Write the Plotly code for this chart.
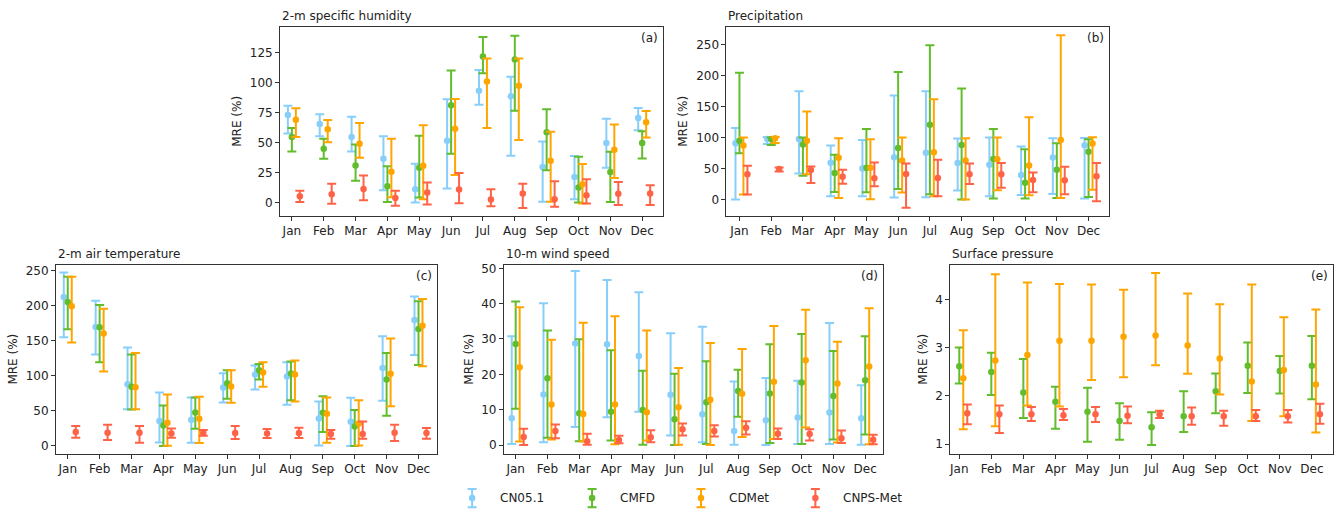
import plotly.graph_objects as go

months = ["Jan", "Feb", "Mar", "Apr", "May", "Jun", "Jul", "Aug", "Sep", "Oct", "Nov", "Dec"]
series_names = ["CN05.1", "CMFD", "CDMet", "CNPS-Met"]

# ---------- (a) 2-m specific humidity ----------
q_cn05_mid = [73.3, 65.8, 55.0, 36.8, 11.3, 51.7, 93.5, 88.8, 29.9, 21.6, 50.0, 70.8]
q_cn05_lo = [57.8, 55.6, 42.9, 10.5, 0.3, 11.9, 81.9, 39.3, 0.8, 3.0, 29.3, 60.6]
q_cn05_hi = [81.0, 73.8, 71.9, 55.6, 32.6, 86.3, 110.9, 105.1, 51.2, 39.0, 70.2, 79.1]
q_cmfd_mid = [54.8, 45.0, 31.2, 13.8, 29.3, 81.3, 122.0, 119.5, 58.9, 12.7, 25.7, 50.0]
q_cmfd_lo = [42.9, 36.8, 18.5, 0.6, 4.4, 40.9, 108.1, 76.9, 27.1, 0.3, 0.6, 37.0]
q_cmfd_hi = [62.5, 53.4, 48.7, 30.4, 55.9, 110.3, 138.3, 139.4, 78.0, 38.4, 42.6, 59.7]
q_cdmet_mid = [69.4, 61.4, 49.2, 26.0, 31.0, 61.7, 101.2, 97.6, 35.1, 15.5, 44.2, 67.2]
q_cdmet_lo = [54.8, 50.6, 37.6, 4.7, 3.0, 23.2, 62.5, 52.3, 0.8, -0.6, 20.7, 54.5]
q_cdmet_hi = [78.8, 69.1, 66.6, 53.4, 64.7, 86.6, 120.3, 120.3, 59.2, 32.4, 65.3, 76.6]
q_cnps_mid = [5.5, 7.2, 11.6, 4.1, 8.6, 11.0, 2.8, 7.7, 3.0, 6.4, 7.5, 7.7]
q_cnps_lo = [0.6, -0.8, 2.2, -2.5, -1.4, -0.3, -2.8, -4.4, -3.3, -0.6, -1.9, -1.9]
q_cnps_hi = [10.0, 15.8, 22.7, 10.0, 16.9, 24.9, 11.3, 16.0, 18.0, 19.6, 17.4, 14.7]

# ---------- (b) Precipitation ----------
p_cn05_mid = [90.8, 97.8, 97.8, 59.3, 50.2, 68.4, 75.3, 58.8, 56.0, 39.5, 67.8, 87.6]
p_cn05_lo = [0.0, 89.7, 42.2, 5.3, 5.3, 3.2, 3.7, 14.4, 5.3, 7.5, 9.1, 1.6]
p_cn05_hi = [115.4, 101.0, 174.7, 87.1, 96.2, 167.7, 174.7, 98.3, 99.9, 85.5, 98.8, 99.4]
p_cmfd_mid = [95.0, 97.8, 88.7, 42.7, 51.3, 83.3, 120.7, 88.1, 65.5, 27.2, 48.1, 76.9]
p_cmfd_lo = [74.8, 88.1, 38.5, 12.3, 11.8, 17.1, 8.5, 0.0, 1.6, 1.6, 2.7, 4.3]
p_cmfd_hi = [204.6, 99.9, 99.9, 72.1, 113.8, 205.7, 248.9, 179.0, 113.8, 81.2, 90.8, 97.2]
p_cdmet_mid = [87.0, 98.8, 94.6, 67.3, 51.3, 63.0, 76.4, 63.0, 65.0, 55.0, 96.2, 90.3]
p_cdmet_lo = [8.0, 91.3, 40.6, 2.7, 0.5, 11.2, 5.3, 0.0, 15.0, 6.9, 2.7, 16.0]
p_cdmet_hi = [99.9, 101.0, 142.1, 98.8, 97.2, 99.9, 161.9, 98.8, 99.9, 132.5, 265.0, 100.4]
p_cnps_mid = [40.6, 49.1, 47.5, 36.9, 34.2, 41.1, 34.7, 40.6, 40.6, 31.5, 31.0, 37.4]
p_cnps_lo = [8.0, 45.4, 26.7, 25.6, 21.4, -13.4, 5.3, 25.1, 19.2, 11.8, 8.5, -2.7]
p_cnps_hi = [54.5, 51.8, 53.4, 48.1, 59.8, 58.2, 64.1, 58.2, 58.8, 43.8, 52.9, 58.8]

# ---------- (c) 2-m air temperature ----------
t_cn05_mid = [212.0, 169.0, 87.5, 34.7, 36.6, 82.7, 101.2, 98.4, 38.5, 33.7, 110.7, 179.2]
t_cn05_lo = [154.5, 129.8, 51.8, 4.3, 3.8, 61.3, 80.0, 58.0, 0.0, -1.0, 63.7, 129.3]
t_cn05_hi = [247.0, 206.7, 139.7, 75.6, 68.4, 103.1, 114.0, 118.8, 62.7, 68.0, 155.9, 212.9]
t_cmfd_mid = [205.0, 168.7, 83.7, 28.5, 47.0, 88.9, 107.4, 102.7, 46.6, 27.1, 94.1, 166.3]
t_cmfd_lo = [166.0, 118.8, 51.3, -1.0, 23.8, 66.5, 94.1, 64.6, 19.0, -1.0, 42.3, 115.0]
t_cmfd_hi = [241.0, 200.6, 129.8, 57.0, 68.4, 107.4, 116.4, 119.8, 70.3, 50.4, 132.1, 205.8]
t_cdmet_mid = [198.7, 159.7, 83.2, 32.3, 38.0, 84.1, 104.0, 101.2, 45.2, 31.4, 102.2, 171.1]
t_cdmet_lo = [147.0, 105.5, 51.8, -0.5, 3.3, 60.8, 83.7, 62.7, 3.8, 0.0, 56.1, 113.1]
t_cdmet_hi = [241.0, 195.3, 132.0, 72.7, 69.4, 107.4, 118.8, 121.2, 68.4, 64.6, 152.6, 209.1]
t_cnps_mid = [19.0, 18.0, 18.0, 17.1, 17.6, 17.6, 17.1, 17.6, 16.2, 16.2, 18.0, 17.6]
t_cnps_lo = [11.0, 7.6, 3.8, 11.0, 13.8, 9.0, 10.5, 10.5, 9.5, 9.5, 6.2, 9.5]
t_cnps_hi = [27.6, 29.5, 27.6, 24.2, 21.9, 27.6, 23.3, 25.2, 21.9, 34.2, 29.5, 24.7]

# ---------- (d) 10-m wind speed ----------
w_cn05_mid = [7.6, 14.3, 28.7, 28.5, 25.2, 14.2, 8.7, 4.0, 7.0, 7.8, 9.2, 7.6]
w_cn05_lo = [0.3, 0.8, 5.1, 7.9, 9.4, 2.7, 0.8, 0.1, 0.0, 0.3, 0.3, 0.1]
w_cn05_hi = [30.8, 40.1, 49.2, 46.7, 43.2, 31.6, 33.5, 18.0, 19.0, 18.2, 34.5, 16.9]
w_cmfd_mid = [28.6, 18.9, 9.0, 9.4, 9.9, 7.3, 12.1, 15.3, 14.6, 17.7, 13.9, 18.3]
w_cmfd_lo = [10.3, 2.1, 1.1, 1.3, 0.1, 0.0, 0.3, 8.0, 0.6, 0.3, 1.6, 3.0]
w_cmfd_hi = [40.6, 32.4, 29.9, 26.8, 21.0, 20.2, 23.7, 21.3, 28.5, 31.4, 26.6, 30.8]
w_cdmet_mid = [22.0, 11.5, 8.8, 11.5, 9.3, 10.7, 12.8, 14.5, 17.9, 24.0, 17.4, 22.2]
w_cdmet_lo = [1.0, 1.6, 1.0, 0.2, 1.3, 0.1, 0.0, 2.3, 1.7, 5.0, 0.7, 0.2]
w_cdmet_hi = [39.0, 29.8, 34.6, 36.4, 32.4, 21.8, 28.9, 27.2, 33.7, 38.3, 29.2, 38.7]
w_cnps_mid = [2.3, 4.0, 1.1, 1.4, 2.2, 4.5, 4.0, 4.9, 3.2, 3.1, 1.9, 1.5]
w_cnps_lo = [0.0, 1.9, 0.1, 0.5, 0.8, 2.7, 2.4, 3.0, 1.7, 1.3, 0.6, 0.2]
w_cnps_hi = [4.6, 5.8, 3.2, 2.6, 4.2, 6.1, 5.6, 6.7, 4.7, 4.5, 4.1, 2.9]

# ---------- (e) Surface pressure (no CN05.1) ----------
s_cmfd_mid = [2.62, 2.50, 2.07, 1.88, 1.67, 1.48, 1.35, 1.58, 2.10, 2.63, 2.52, 2.63]
s_cmfd_lo = [2.26, 2.02, 1.54, 1.32, 1.05, 1.09, 0.98, 1.25, 1.64, 2.06, 2.05, 1.93]
s_cmfd_hi = [3.01, 2.90, 2.77, 2.19, 2.17, 1.85, 1.66, 2.10, 2.47, 3.11, 2.83, 3.25]
s_cdmet_mid = [2.37, 2.74, 2.85, 3.15, 3.15, 3.23, 3.26, 3.05, 2.78, 2.30, 2.54, 2.24]
s_cdmet_lo = [1.31, 1.37, 1.80, 1.78, 2.33, 2.39, 2.64, 2.46, 2.03, 1.48, 1.58, 1.24]
s_cdmet_hi = [3.37, 4.53, 4.36, 4.33, 4.32, 4.21, 4.56, 4.13, 3.91, 4.32, 3.64, 3.80]
s_cnps_mid = [1.64, 1.62, 1.62, 1.60, 1.62, 1.59, 1.62, 1.58, 1.58, 1.58, 1.58, 1.62]
s_cnps_lo = [1.41, 1.23, 1.48, 1.50, 1.46, 1.43, 1.54, 1.40, 1.38, 1.48, 1.45, 1.42]
s_cnps_hi = [1.82, 1.80, 1.77, 1.73, 1.77, 1.78, 1.69, 1.76, 1.69, 1.71, 1.71, 1.84]

panel_titles = ["2-m specific humidity", "Precipitation", "2-m air temperature", "10-m wind speed", "Surface pressure"]
panel_labels = ["(a)", "(b)", "(c)", "(d)", "(e)"]

# ---------- styling ----------
colors = {"CN05.1": "#87CEFA", "CMFD": "#62BD2C", "CDMet": "#FFA500", "CNPS-Met": "#FF6347"}
offsets = {"CN05.1": -0.125, "CMFD": 0.0, "CDMet": 0.125, "CNPS-Met": 0.25}
FONT = "DejaVu Sans"
W, H = 1338, 512
AX = "#333333"
TXT = "#222222"

panels = [
    dict(data={"CN05.1": (q_cn05_mid, q_cn05_lo, q_cn05_hi), "CMFD": (q_cmfd_mid, q_cmfd_lo, q_cmfd_hi),
               "CDMet": (q_cdmet_mid, q_cdmet_lo, q_cdmet_hi), "CNPS-Met": (q_cnps_mid, q_cnps_lo, q_cnps_hi)},
         px=(279.3, 662.7), py=(24, 214), yr=(-10.8, 146.8), yt=[0, 25, 50, 75, 100, 125], xr=(-0.37, 11.66)),
    dict(data={"CN05.1": (p_cn05_mid, p_cn05_lo, p_cn05_hi), "CMFD": (p_cmfd_mid, p_cmfd_lo, p_cmfd_hi),
               "CDMet": (p_cdmet_mid, p_cdmet_lo, p_cdmet_hi), "CNPS-Met": (p_cnps_mid, p_cnps_lo, p_cnps_hi)},
         px=(726, 1108.7), py=(24, 214), yr=(-26.1, 278.4), yt=[0, 50, 100, 150, 200, 250], xr=(-0.41, 11.64)),
    dict(data={"CN05.1": (t_cn05_mid, t_cn05_lo, t_cn05_hi), "CMFD": (t_cmfd_mid, t_cmfd_lo, t_cmfd_hi),
               "CDMet": (t_cdmet_mid, t_cdmet_lo, t_cdmet_hi), "CNPS-Met": (t_cnps_mid, t_cnps_lo, t_cnps_hi)},
         px=(55, 436), py=(263.3, 453.3), yr=(-11.8, 258.1), yt=[0, 50, 100, 150, 200, 250], xr=(-0.37, 11.57)),
    dict(data={"CN05.1": (w_cn05_mid, w_cn05_lo, w_cn05_hi), "CMFD": (w_cmfd_mid, w_cmfd_lo, w_cmfd_hi),
               "CDMet": (w_cdmet_mid, w_cdmet_lo, w_cdmet_hi), "CNPS-Met": (w_cnps_mid, w_cnps_lo, w_cnps_hi)},
         px=(503.3, 883), py=(263.3, 453.3), yr=(-2.43, 51.0), yt=[0, 10, 20, 30, 40, 50], xr=(-0.37, 11.57)),
    dict(data={"CMFD": (s_cmfd_mid, s_cmfd_lo, s_cmfd_hi),
               "CDMet": (s_cdmet_mid, s_cdmet_lo, s_cdmet_hi), "CNPS-Met": (s_cnps_mid, s_cnps_lo, s_cnps_hi)},
         px=(950, 1332.7), py=(263.3, 453.3), yr=(0.80, 4.73), yt=[1, 2, 3, 4], xr=(-0.28, 11.65)),
]

fig = go.Figure()
layout = dict(
    width=W, height=H, margin=dict(l=0, r=0, t=0, b=0),
    paper_bgcolor="white", plot_bgcolor="white", showlegend=False,
    font=dict(family=FONT, size=12, color=TXT),
)
annotations = []

for i, p in enumerate(panels):
    n = i + 1
    xa = "x" if n == 1 else f"x{n}"
    ya = "y" if n == 1 else f"y{n}"
    xkey = "xaxis" if n == 1 else f"xaxis{n}"
    ykey = "yaxis" if n == 1 else f"yaxis{n}"
    dom_x = [p["px"][0] / W, p["px"][1] / W]
    dom_y = [1 - p["py"][1] / H, 1 - p["py"][0] / H]
    for name, (mid, lo, hi) in p["data"].items():
        xs = [k + offsets[name] for k in range(len(months))]
        fig.add_trace(go.Scatter(
            x=xs, y=mid, mode="markers", xaxis=xa, yaxis=ya, name=name,
            marker=dict(color=colors[name], size=6.5),
            error_y=dict(type="data", symmetric=False,
                         array=[h - m for h, m in zip(hi, mid)],
                         arrayminus=[m - l for m, l in zip(mid, lo)],
                         color=colors[name], thickness=2, width=4.5),
        ))
    layout[xkey] = dict(
        domain=dom_x, anchor=ya, range=list(p["xr"]), tickmode="array",
        tickvals=list(range(12)), ticktext=months, showline=True, mirror=True,
        linecolor=AX, linewidth=1, ticks="outside", ticklen=4, tickcolor=AX,
        showgrid=False, zeroline=False, tickfont=dict(size=12, color=TXT),
    )
    layout[ykey] = dict(
        domain=dom_y, anchor=xa, range=list(p["yr"]), tickmode="array",
        tickvals=p["yt"], ticktext=[str(v) for v in p["yt"]], showline=True, mirror=True,
        linecolor=AX, linewidth=1, ticks="outside", ticklen=4, tickcolor=AX,
        showgrid=False, zeroline=False, tickfont=dict(size=12, color=TXT),
        title=dict(text="MRE (%)", font=dict(size=12, color=TXT), standoff=5),
    )
    annotations.append(dict(
        text=panel_titles[i], xref="paper", yref="paper", x=dom_x[0], y=dom_y[1],
        xanchor="left", yanchor="bottom", yshift=2, showarrow=False,
        font=dict(size=12, color=TXT),
    ))
    annotations.append(dict(
        text=panel_labels[i], xref="paper", yref="paper", x=dom_x[1], y=dom_y[1],
        xanchor="right", yanchor="top", xshift=-3, yshift=-2, showarrow=False,
        font=dict(size=12, color=TXT),
    ))

# ---------- custom legend (error-bar icons) ----------
legend_x = [471.5, 591.5, 700.5, 815.0]
for name, lx in zip(series_names, legend_x):
    fig.add_trace(go.Scatter(
        x=[lx], y=[0.5], mode="markers", xaxis="x6", yaxis="y6", name=name,
        marker=dict(color=colors[name], size=6.5),
        error_y=dict(type="constant", value=0.33, color=colors[name], thickness=2, width=4.5),
        hoverinfo="skip",
    ))
    annotations.append(dict(
        text=name, xref="x6", yref="y6", x=lx + 26, y=0.5, xanchor="left", yanchor="middle",
        showarrow=False, font=dict(size=12, color=TXT),
    ))
layout["xaxis6"] = dict(domain=[0, 1], anchor="y6", range=[0, W], visible=False, fixedrange=True)
layout["yaxis6"] = dict(domain=[0, 28 / H], anchor="x6", range=[0, 1], visible=False, fixedrange=True)

layout["annotations"] = annotations
fig.update_layout(**layout)
fig.write_html("out.html")
